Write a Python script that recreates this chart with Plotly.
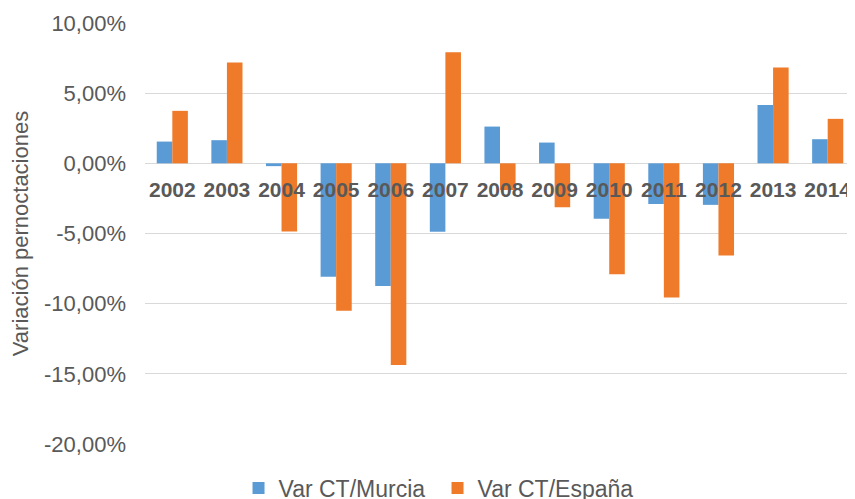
import plotly.graph_objects as go

years = ["2002", "2003", "2004", "2005", "2006", "2007", "2008",
         "2009", "2010", "2011", "2012", "2013", "2014"]
murcia = [0.0155, 0.0165, -0.0020, -0.0808, -0.0874, -0.0487, 0.0262,
          0.0148, -0.0395, -0.0290, -0.0296, 0.0415, 0.0172]
espana = [0.0374, 0.0718, -0.0486, -0.1050, -0.1437, 0.0792, -0.0190,
          -0.0313, -0.0790, -0.0956, -0.0657, 0.0683, 0.0317]
ytick_vals = [0.10, 0.05, 0.0, -0.05, -0.10, -0.15, -0.20]
ytick_text = ["10,00%", "5,00%", "0,00%", "-5,00%", "-10,00%", "-15,00%", "-20,00%"]

font = "Liberation Sans, Arial, sans-serif"

fig = go.Figure()
fig.add_trace(go.Bar(x=years, y=murcia, name="Var CT/Murcia",
                     marker=dict(color="#5B9BD5", line=dict(width=0))))
fig.add_trace(go.Bar(x=years, y=espana, name="Var CT/España",
                     marker=dict(color="#EE7A2A", line=dict(width=0))))

fig.update_layout(
    width=847, height=491,
    margin=dict(l=137, r=0, t=15, b=55, autoexpand=False),
    paper_bgcolor="white", plot_bgcolor="white",
    barmode="group", bargap=0.43, bargroupgap=0,
    font=dict(family=font, color="#595959", size=22),
    showlegend=True,
    legend=dict(orientation="h", x=0.412, xanchor="center", y=-0.1045, yanchor="middle",
                font=dict(size=23, color="#595959"), itemwidth=30,
                entrywidth=154, entrywidthmode="pixels",
                traceorder="normal"),
    xaxis=dict(type="category", range=[-0.5, 12.5], anchor="free", position=2/3,
               automargin=False,
               showgrid=False, showline=False, ticks="",
               ticklabelstandoff=12,
               tickfont=dict(size=21, color="#595959", family=font, weight="bold")),
    yaxis=dict(range=[-0.20, 0.10], tickvals=ytick_vals, ticktext=ytick_text,
               automargin=False,
               showgrid=True, gridcolor="#D9D9D9", gridwidth=1,
               zeroline=True, zerolinecolor="#D9D9D9", zerolinewidth=1,
               showline=False, ticks="", ticklabelstandoff=18,
               tickfont=dict(size=22, color="#595959"),
               title=dict(text="Variación pernoctaciones", standoff=10,
                          font=dict(size=22, color="#595959"))),
)

fig.write_html("out.html")
